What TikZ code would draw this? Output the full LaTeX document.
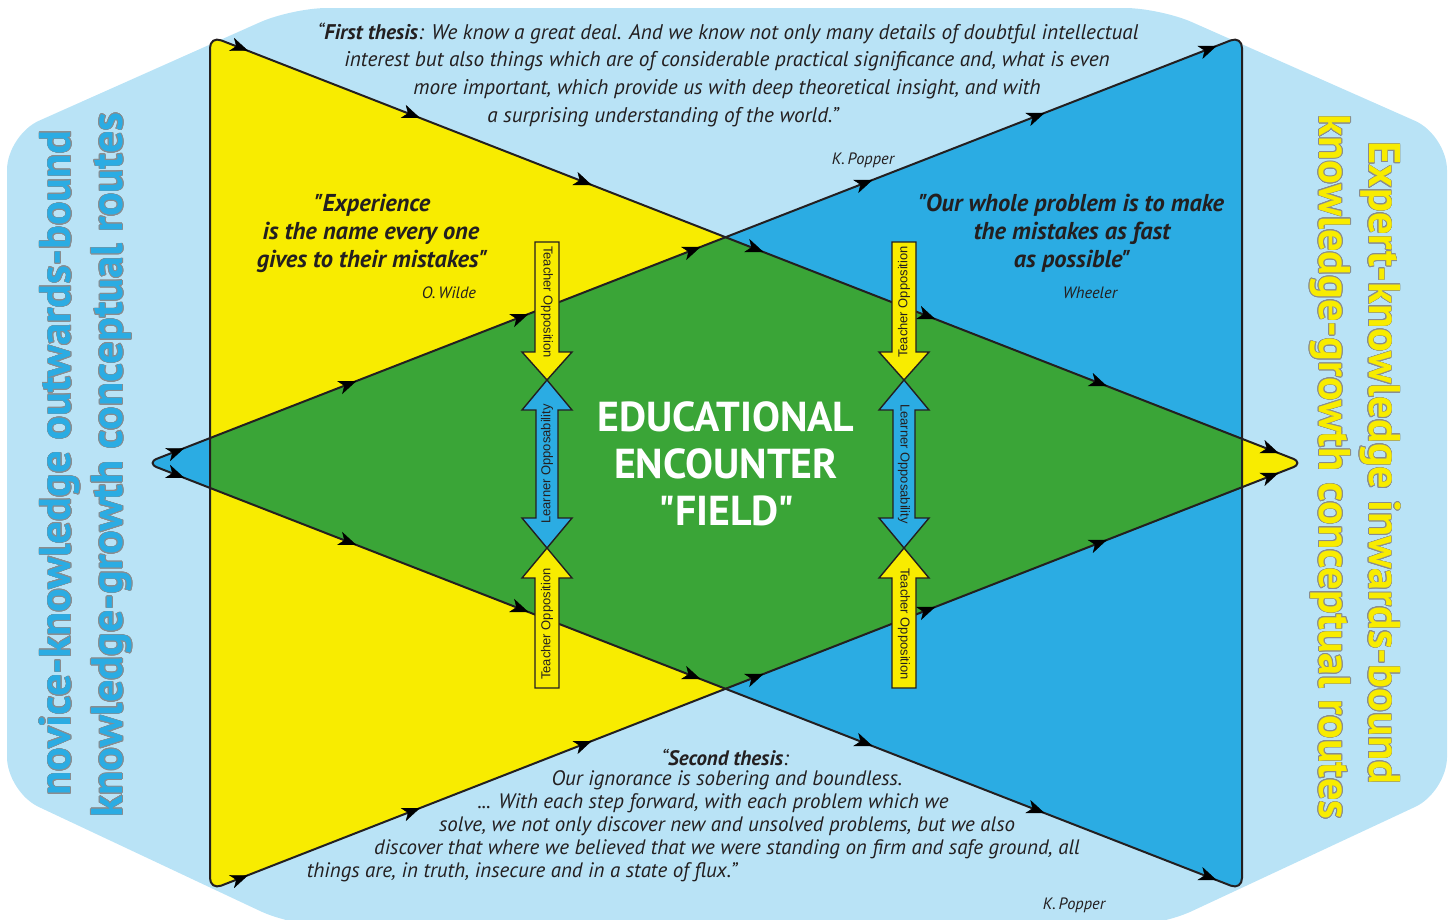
\documentclass[tikz,border=0pt]{standalone}
\usepackage{fontspec}
\setmainfont{PT Sans}[Ligatures=TeXOff]
\setsansfont{Liberation Sans}[Ligatures=TeXOff]
\usepackage{contour}
\contourlength{0.6pt}
\usetikzlibrary{arrows.meta,decorations.markings}

\definecolor{paleblue}{HTML}{B9E3F6}
\definecolor{sunyellow}{HTML}{F8EC00}
\definecolor{skyblue}{HTML}{2BACE3}
\definecolor{fieldgreen}{HTML}{3AA537}
\definecolor{ink}{HTML}{231F20}
\definecolor{edgegray}{HTML}{8A8C8E}

\tikzset{
  outline/.style={draw=ink, line width=2bp, rounded corners=12bp, line join=round},
  flow/.style={postaction={decorate}, decoration={markings,
      mark=between positions 0.035 and 0.99 step 0.157 with
      {\arrow{Stealth[length=18bp,width=14bp,inset=5bp]}}}},
  colarrow/.style={draw=ink, line width=1.4bp, line join=miter},
  coltext/.style={font=\sffamily\fontsize{13}{14}\selectfont, text=ink, inner sep=0pt},
  quote/.style={font=\itshape\fontsize{21.3}{24}\selectfont, text=ink, inner sep=0pt},
  lowquote/.style={font=\itshape\fontsize{21}{23}\selectfont, text=ink, inner sep=0pt},
  motto/.style={font=\bfseries\itshape\fontsize{24.5}{28}\selectfont, text=ink, inner sep=0pt},
  author/.style={font=\itshape\fontsize{16.5}{18}\selectfont, text=ink, inner sep=0pt},
  sidetext/.style={font=\bfseries\fontsize{44.5}{46}\selectfont, inner sep=0pt},
  fieldtext/.style={font=\bfseries\fontsize{42}{47}\selectfont, text=white, inner sep=0pt}
}

\begin{document}
\begin{tikzpicture}[x=1bp,y=-1bp]
\useasboundingbox (0,0) rectangle (1452,919);

% pale background panel
\fill[paleblue, rounded corners=35bp]
  (7,135) -- (292,8) -- (1160,8) -- (1447,135) -- (1447,792) -- (1160,926)
  -- (292,926) -- (7,792) -- cycle;

% triangle vertices
\coordinate (TL) at (210,36);
\coordinate (BL) at (210,890);
\coordinate (TR) at (1242,36);
\coordinate (BR) at (1242,890);
\coordinate (LA) at (146,463);
\coordinate (RA) at (1304,463);

% novice triangle (yellow) and expert triangle (blue)
\fill[sunyellow, rounded corners=12bp] (210,463) -- (TL) -- (RA) -- (BL) -- cycle;
\fill[skyblue, rounded corners=12bp] (1242,463) -- (TR) -- (LA) -- (BR) -- cycle;
% overlap: the encounter field
\fill[fieldgreen] (210,438) -- (726,237) -- (1242,438) -- (1242,488) -- (726,689) -- (210,488) -- cycle;

% outlines
\draw[outline] (210,463) -- (TL) -- (RA) -- (BL) -- cycle;
\draw[outline] (1242,463) -- (TR) -- (LA) -- (BR) -- cycle;

% direction marks along the routes
\path[flow] (TL) -- (RA);
\path[flow] (BL) -- (RA);
\path[flow] (LA) -- (TR);
\path[flow] (LA) -- (BR);

% opposition / opposability columns
\foreach \c in {547,904}{
  \filldraw[colarrow, fill=sunyellow]
    (\c-12,242) -- (\c+12,242) -- (\c+12,352) -- (\c+25,352) -- (\c,380)
    -- (\c-25,352) -- (\c-12,352) -- cycle;
  \filldraw[colarrow, fill=skyblue]
    (\c,380) -- (\c+25,410) -- (\c+11,410) -- (\c+11,518) -- (\c+25,518) -- (\c,548)
    -- (\c-25,518) -- (\c-11,518) -- (\c-11,410) -- (\c-25,410) -- cycle;
  \filldraw[colarrow, fill=sunyellow]
    (\c,548) -- (\c+25,578) -- (\c+12,578) -- (\c+12,688) -- (\c-12,688)
    -- (\c-12,578) -- (\c-25,578) -- cycle;
}
\node[coltext, rotate=-90] (lto) at (547,302) {Teacher Opposition};
\node[coltext, rotate=90]  (llo) at (547,464) {Learner Opposability};
\node[coltext, rotate=90]  (lbo) at (547,624) {Teacher Opposition};
\node[coltext, rotate=90]  (rto) at (904,302) {Teacher Opposition};
\node[coltext, rotate=-90] (rlo) at (904,464) {Learner Opposability};
\node[coltext, rotate=-90] (rbo) at (904,624) {Teacher Opposition};

% field title
\node[fieldtext] (f1) at (726,417) {EDUCATIONAL};
\node[fieldtext] (f2) at (726,464) {ENCOUNTER};
\node[fieldtext] (f3) at (726,511) {"FIELD"};

% first thesis
\node[quote] (t1) at (728,33) {“\textbf{First thesis}: We know a great deal. And we know not only many details of doubtful intellectual};
\node[quote] (t2) at (727,61) {interest but also things which are of considerable practical significance and, what is even};
\node[quote] (t3) at (727,89) {more important, which provide us with deep theoretical insight, and with};
\node[quote] (t4) at (663,117) {a surprising understanding of the world.”};
\node[author] (ta) at (863,160) {K.\,Popper};

% mottos
\node[motto] (w1) at (372,205) {"Experience};
\node[motto] (w2) at (371,233) {is the name every one};
\node[motto] (w3) at (372,261) {gives to their mistakes"};
\node[author] (wa) at (449,293) {O.\,Wilde};

\node[motto] (h1) at (1071,205) {"Our whole problem is to make};
\node[motto] (h2) at (1072,233) {the mistakes as fast};
\node[motto] (h3) at (1072,261) {as possible"};
\node[author] (ha) at (1090,293) {Wheeler};

% second thesis
\node[lowquote] (s1) at (725,757) {“\textbf{Second thesis}:};
\node[lowquote] (s2) at (727,780) {Our ignorance is sobering and boundless.};
\node[lowquote] (s3) at (713,803) {... With each step forward, with each problem which we};
\node[lowquote] (s4) at (727,826) {solve, we not only discover new and unsolved problems, but we also};
\node[lowquote] (s5) at (727,849) {discover that where we believed that we were standing on firm and safe ground, all};
\node[lowquote] (s6) at (522,872) {things are, in truth, insecure and in a state of flux.”};
\node[author] (sa) at (1074,905) {K.\,Popper};

% side captions
\node[sidetext, rotate=90, text=skyblue] (n1) at (60,463) {\contour{edgegray}{novice-knowledge outwards-bound}};
\node[sidetext, rotate=90, text=skyblue] (n2) at (112,465) {\contour{edgegray}{knowledge-growth conceptual routes}};
\node[sidetext, rotate=-90, text=sunyellow] (e1) at (1380,463) {\contour{edgegray}{Expert-knowledge inwards-bound}};
\node[sidetext, rotate=-90, text=sunyellow] (e2) at (1330,467) {\contour{edgegray}{knowledge-growth conceptual routes}};

\end{tikzpicture}
\end{document}
